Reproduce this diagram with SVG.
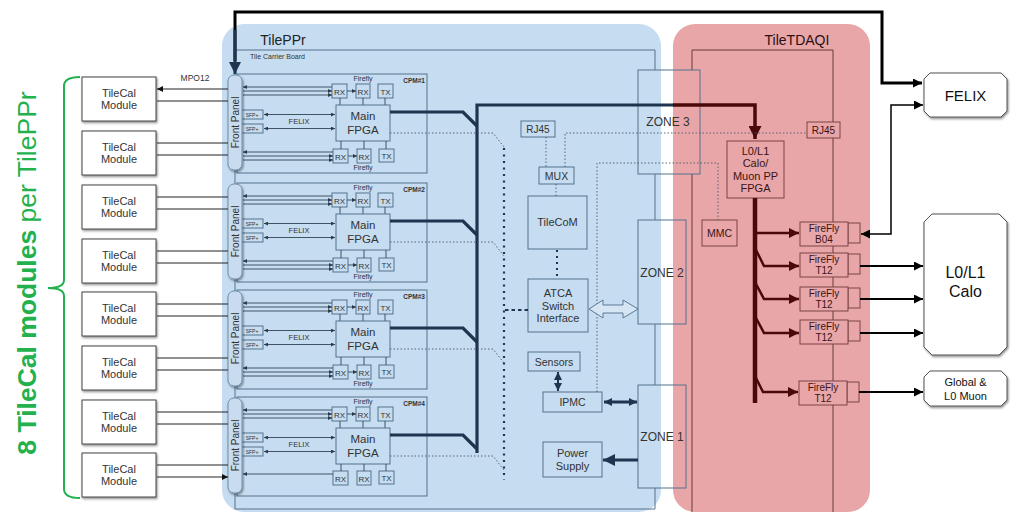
<svg xmlns="http://www.w3.org/2000/svg" xmlns:xlink="http://www.w3.org/1999/xlink" width="1018" height="514" viewBox="0 0 1018 514">
<defs>
<style>
text{font-family:"Liberation Sans",Arial,sans-serif;fill:#333;text-anchor:middle}
.bx{fill:none;stroke:#55728d;stroke-width:1}
.thin{fill:none;stroke:#2f4356;stroke-width:0.9}
.dot{fill:none;stroke:#4a5a6a;stroke-width:0.9;stroke-dasharray:1.5 2}
.rbx{fill:none;stroke:#7a4545;stroke-width:1}
.rbxs{fill:#e8a6a9;stroke:#7a4545;stroke-width:1}
.rt{fill:#3a1414}
.mod{fill:#fff;stroke:#444;stroke-width:1;filter:url(#sh)}
.modarr{fill:none;stroke:#222;stroke-width:1;marker-start:url(#ma);marker-end:url(#ma)}
.out{fill:#fff;stroke:#555;stroke-width:1;filter:url(#sh)}
</style>
<filter id="sh" x="-10%" y="-10%" width="130%" height="130%"><feDropShadow dx="1" dy="1.5" stdDeviation="0.8" flood-color="#000" flood-opacity="0.45"/></filter>
<marker id="mt" viewBox="0 0 10 10" refX="10" refY="5" markerWidth="5" markerHeight="4" markerUnits="userSpaceOnUse" orient="auto-start-reverse"><path d="M0,0 L10,5 L0,10 z" fill="#2b3b4b"/></marker>
<marker id="ma" viewBox="0 0 10 10" refX="10" refY="5" markerWidth="8" markerHeight="6" markerUnits="userSpaceOnUse" orient="auto-start-reverse"><path d="M0,0 L10,5 L0,10 z" fill="#111"/></marker>
<marker id="mn" viewBox="0 0 10 10" refX="10" refY="5" markerWidth="9" markerHeight="8" markerUnits="userSpaceOnUse" orient="auto-start-reverse"><path d="M0,0 L10,5 L0,10 z" fill="#1e3550"/></marker>
<marker id="mnb" viewBox="0 0 10 10" refX="10" refY="5" markerWidth="14" markerHeight="12" markerUnits="userSpaceOnUse" orient="auto"><path d="M0,0 L10,5 L0,10 z" fill="#1e3550"/></marker>
<marker id="mk" viewBox="0 0 10 10" refX="10" refY="5" markerWidth="12" markerHeight="9" markerUnits="userSpaceOnUse" orient="auto-start-reverse"><path d="M0,0 L10,5 L0,10 z" fill="#000"/></marker>
<marker id="mr" viewBox="0 0 10 10" refX="10" refY="5" markerWidth="12" markerHeight="10" markerUnits="userSpaceOnUse" orient="auto"><path d="M0,0 L10,5 L0,10 z" fill="#4a0808"/></marker>
<marker id="mrb" viewBox="0 0 10 10" refX="10" refY="5" markerWidth="13" markerHeight="13" markerUnits="userSpaceOnUse" orient="auto"><path d="M0,0 L10,5 L0,10 z" fill="#4a0808"/></marker>
<g id="cpmTop">
<rect class="bx" x="237" y="1" width="190" height="99"/>
<text x="363" y="8" style="font-size:7px">Firefly</text>
<rect class="bx" x="332" y="11" width="15" height="14"/><text x="339.5" y="21.5" style="font-size:8px">RX</text>
<rect class="bx" x="356" y="11" width="14" height="14"/><text x="363" y="21.5" style="font-size:8px">RX</text>
<rect class="bx" x="378" y="11" width="15" height="14"/><text x="385.5" y="21.5" style="font-size:8px">TX</text>
<path class="thin" d="M332,14 H243" marker-end="url(#mt)"/>
<path class="thin" d="M243,18 H332" marker-end="url(#mt)"/>
<path class="thin" d="M243,22 H332" marker-end="url(#mt)"/>
<path class="thin" d="M347,18 H356" marker-end="url(#mt)"/>
<path class="thin" d="M340,25 V32 M363,25 V32 M385,25 V32"/>
<rect class="bx" x="336" y="32" width="54" height="36"/>
<text x="363" y="47" style="font-size:11.5px">Main</text>
<text x="363" y="61" style="font-size:11.5px">FPGA</text>
<rect class="bx" x="241" y="37" width="22" height="9"/><text x="252" y="43.5" style="font-size:5px">SFP+</text>
<rect class="bx" x="241" y="51" width="22" height="9"/><text x="252" y="57.5" style="font-size:5px">SFP+</text>
<path class="thin" d="M264,41.5 H335" marker-start="url(#mt)" marker-end="url(#mt)"/>
<path class="thin" d="M264,55.5 H335" marker-start="url(#mt)" marker-end="url(#mt)"/>
<text x="299" y="51" style="font-size:7.5px">FELIX</text>
</g>
<g id="cpmBot">
<rect class="bx" x="333" y="76" width="15" height="14"/><text x="340.5" y="86.5" style="font-size:8px">RX</text>
<rect class="bx" x="357" y="76" width="14" height="14"/><text x="364" y="86.5" style="font-size:8px">RX</text>
<rect class="bx" x="379" y="76" width="15" height="13"/><text x="386.5" y="86" style="font-size:8px">TX</text>
<path class="thin" d="M341,68 V76 M364,68 V76 M386,68 V76"/>
<path class="thin" d="M333,79 H243" marker-end="url(#mt)"/>
<path class="thin" d="M243,83 H333" marker-end="url(#mt)"/>
<path class="thin" d="M243,87 H333" marker-end="url(#mt)"/>
<path class="thin" d="M348,83 H357" marker-end="url(#mt)"/>
<text x="363" y="97" style="font-size:7px">Firefly</text>
</g>
<g id="fp">
<rect x="228" y="2" width="14" height="95" rx="6" fill="#c9dcef" stroke="#6f8fab" stroke-width="1" filter="url(#sh)"/>
<text transform="translate(238.5,49.5) rotate(-90)" style="font-size:10px">Front Panel</text>
</g>
</defs>

<rect width="1018" height="514" fill="#fff"/>

<g id="panels">
<rect x="222" y="24" width="439" height="488" rx="22" fill="#c6dcf0"/>
<rect x="673" y="24" width="197" height="488" rx="22" fill="#e8a6a9"/>
<text x="283" y="45" style="font-size:14px;fill:#222">TilePPr</text>
<text x="797" y="45" style="font-size:14px;fill:#2a1010">TileTDAQI</text>
</g>

<g id="carrier-board">
<path d="M235,509 V50 H655 V70 M655,174 V220 M655,324 V385 M655,488 V509 H235" fill="none" stroke="#55728d" stroke-width="1"/>
<text x="250" y="59" style="font-size:7px;text-anchor:start">Tile Carrier Board</text>
</g>

<g id="tdaqi-board">
<path d="M692,70 V50 H833 V512 M692,174 V512" fill="none" stroke="#6a3a3a" stroke-width="1"/>
</g>

<g id="brace">
<path d="M80,77 Q64,77 64,86 V280 Q64,288 48,288 Q64,288 64,296 V489 Q64,498 80,498" fill="none" stroke="#22b14c" stroke-width="2"/>
<text transform="translate(36,273) rotate(-90)" style="font-size:26.5px;fill:#22b14c"><tspan font-weight="bold">8 TileCal modules</tspan> per TilePPr</text>
</g>

<g id="modules">
<g id="mod1"><rect class="mod" x="82" y="77" width="74" height="44"/><text x="119" y="97" style="font-size:11px">TileCal</text><text x="119" y="109" style="font-size:11px">Module</text></g>
<g id="mod2"><rect class="mod" x="82" y="131" width="74" height="44"/><text x="119" y="151" style="font-size:11px">TileCal</text><text x="119" y="163" style="font-size:11px">Module</text></g>
<g id="mod3"><rect class="mod" x="82" y="185" width="74" height="44"/><text x="119" y="205" style="font-size:11px">TileCal</text><text x="119" y="217" style="font-size:11px">Module</text></g>
<g id="mod4"><rect class="mod" x="82" y="239" width="74" height="44"/><text x="119" y="259" style="font-size:11px">TileCal</text><text x="119" y="271" style="font-size:11px">Module</text></g>
<g id="mod5"><rect class="mod" x="82" y="292" width="74" height="44"/><text x="119" y="312" style="font-size:11px">TileCal</text><text x="119" y="324" style="font-size:11px">Module</text></g>
<g id="mod6"><rect class="mod" x="82" y="346" width="74" height="44"/><text x="119" y="366" style="font-size:11px">TileCal</text><text x="119" y="378" style="font-size:11px">Module</text></g>
<g id="mod7"><rect class="mod" x="82" y="400" width="74" height="44"/><text x="119" y="420" style="font-size:11px">TileCal</text><text x="119" y="432" style="font-size:11px">Module</text></g>
<g id="mod8"><rect class="mod" x="82" y="453" width="74" height="44"/><text x="119" y="473" style="font-size:11px">TileCal</text><text x="119" y="485" style="font-size:11px">Module</text></g>
<text x="195" y="81" style="font-size:8.5px">MPO12</text>
</g>

<g id="cpm1" transform="translate(0,73)"><use href="#cpmTop"/><use href="#cpmBot"/><text x="425" y="10" style="font-size:6.5px;font-weight:bold;text-anchor:end">CPM#1</text><use href="#fp"/></g>
<g id="cpm2" transform="translate(0,182)"><use href="#cpmTop"/><use href="#cpmBot"/><text x="425" y="10" style="font-size:6.5px;font-weight:bold;text-anchor:end">CPM#2</text><use href="#fp"/></g>
<g id="cpm3" transform="translate(0,289)"><use href="#cpmTop"/><use href="#cpmBot"/><text x="425" y="10" style="font-size:6.5px;font-weight:bold;text-anchor:end">CPM#3</text><use href="#fp"/></g>
<g id="cpm4" transform="translate(0,396)"><use href="#cpmTop"/>
<rect class="bx" x="333" y="75" width="15" height="14"/><text x="340.5" y="85.5" style="font-size:8px">RX</text>
<rect class="bx" x="357" y="75" width="14" height="14"/><text x="364" y="85.5" style="font-size:8px">RX</text>
<rect class="bx" x="379" y="75" width="15" height="13"/><text x="386.5" y="85" style="font-size:8px">TX</text>
<path class="thin" d="M341,68 V75 M364,68 V75 M386,68 V75"/>
<path class="thin" d="M333,78 H243" marker-end="url(#mt)"/>
<text x="425" y="10" style="font-size:6.5px;font-weight:bold;text-anchor:end">CPM#4</text><use href="#fp"/></g>

<g id="tilecom-parts">
<g id="rj45-ppr"><rect class="bx" x="521" y="121" width="34" height="16"/><text x="538" y="133" style="font-size:10px">RJ45</text></g>
<g id="mux"><rect class="bx" x="539" y="167" width="35" height="17"/><text x="556.5" y="179.5" style="font-size:10.5px">MUX</text></g>
<g id="tilecom"><rect class="bx" x="528" y="196" width="59" height="53"/><text x="557.5" y="226" style="font-size:11px">TileCoM</text></g>
<g id="atca"><rect class="bx" x="528" y="279" width="60" height="53"/><text x="558" y="297" style="font-size:11px">ATCA</text><text x="558" y="310" style="font-size:11px">Switch</text><text x="558" y="322" style="font-size:11px">Interface</text></g>
<g id="sensors"><rect class="bx" x="528" y="352" width="52" height="19"/><text x="554" y="365.5" style="font-size:10.5px">Sensors</text></g>
<g id="ipmc"><rect class="bx" x="543" y="392" width="59" height="20"/><text x="572.5" y="406" style="font-size:10.5px">IPMC</text></g>
<g id="power"><rect class="bx" x="543" y="442" width="59" height="35"/><text x="572.5" y="457" style="font-size:11px">Power</text><text x="572.5" y="470" style="font-size:11px">Supply</text></g>
</g>

<g id="zones">
<g id="zone3"><rect x="638" y="70" width="62" height="104" fill="none" stroke="#55728d" stroke-width="1"/><text x="668" y="126" style="font-size:12px">ZONE 3</text></g>
<g id="zone2"><rect x="638" y="220" width="48" height="104" fill="none" stroke="#55728d" stroke-width="1"/><text x="662" y="277" style="font-size:12px">ZONE 2</text></g>
<g id="zone1"><rect x="638" y="385" width="48" height="103" fill="none" stroke="#55728d" stroke-width="1"/><text x="662" y="441" style="font-size:12px">ZONE 1</text></g>
</g>

<g id="tdaqi-parts">
<g id="rj45-tdaqi"><rect class="rbxs" x="807" y="122" width="33" height="16"/><text class="rt" x="823.5" y="134" style="font-size:10px">RJ45</text></g>
<g id="l0l1fpga"><rect class="rbx" x="727" y="141" width="57" height="57"/>
<text class="rt" x="755.5" y="155" style="font-size:11px">L0/L1</text><text class="rt" x="755.5" y="167" style="font-size:11px">Calo/</text><text class="rt" x="755.5" y="180" style="font-size:11px">Muon PP</text><text class="rt" x="755.5" y="192" style="font-size:11px">FPGA</text></g>
<g id="mmc"><rect class="rbx" x="702" y="220" width="35" height="26"/><text class="rt" x="719.5" y="237" style="font-size:10.5px">MMC</text></g>
<g id="ffb04"><rect class="rbxs" x="848" y="223" width="12" height="20"/><rect class="rbxs" x="800" y="222" width="48" height="24"/><text class="rt" x="824" y="232" style="font-size:10px">FireFly</text><text class="rt" x="824" y="243" style="font-size:10px">B04</text></g>
<g id="fft1"><rect class="rbxs" x="848" y="254" width="12" height="20"/><rect class="rbxs" x="800" y="253" width="48" height="24"/><text class="rt" x="824" y="263" style="font-size:10px">FireFly</text><text class="rt" x="824" y="274" style="font-size:10px">T12</text></g>
<g id="fft2"><rect class="rbxs" x="848" y="288" width="12" height="20"/><rect class="rbxs" x="800" y="287" width="48" height="24"/><text class="rt" x="824" y="297" style="font-size:10px">FireFly</text><text class="rt" x="824" y="308" style="font-size:10px">T12</text></g>
<g id="fft3"><rect class="rbxs" x="848" y="321" width="12" height="20"/><rect class="rbxs" x="800" y="320" width="48" height="24"/><text class="rt" x="824" y="330" style="font-size:10px">FireFly</text><text class="rt" x="824" y="341" style="font-size:10px">T12</text></g>
<g id="fft4"><rect class="rbxs" x="847" y="382" width="12" height="20"/><rect class="rbxs" x="799" y="381" width="48" height="24"/><text class="rt" x="823" y="391" style="font-size:10px">FireFly</text><text class="rt" x="823" y="402" style="font-size:10px">T12</text></g>
</g>

<g id="outputs">
<g id="felix"><path class="out" d="M930,73 H1001 L1007,79 V111 L1001,117 H930 L924,111 V79 Z"/><text x="965.5" y="101" style="font-size:15px;fill:#111">FELIX</text></g>
<g id="calo"><path class="out" d="M932,214 H999 L1007,222 V347 L999,355 H932 L924,347 V222 Z"/><text x="965.5" y="278" style="font-size:16px;fill:#111">L0/L1</text><text x="965.5" y="297" style="font-size:16px;fill:#111">Calo</text></g>
<g id="global"><path class="out" d="M930,371 H1001 L1007,377 V400 L1001,406 H930 L924,400 V377 Z"/><text x="965.5" y="386" style="font-size:11px;fill:#111">Global &amp;</text><text x="965.5" y="400" style="font-size:11px;fill:#111">L0 Muon</text></g>
</g>

<g id="connectors">
<path class="modarr" d="M157,89 H228 M157,101 H228 M157,143 H228 M157,155 H228 M157,197 H228 M157,209 H228 M157,251 H228 M157,263 H228 M157,304 H228 M157,316 H228 M157,358 H228 M157,370 H228 M157,412 H228 M157,424 H228 M157,465 H228 M157,477 H228"/>
<path d="M235,61 V12 H882 V83 H922" fill="none" stroke="#000" stroke-width="3" marker-end="url(#mk)"/>
<path d="M235,30 V74" fill="none" stroke="#1e3550" stroke-width="3" marker-end="url(#mnb)"/>
<g fill="none" stroke="#1e3550" stroke-width="3.2">
<path d="M390,112 H463 L477,126"/>
<path d="M390,221 H463 L477,235"/>
<path d="M390,328 H463 L477,342"/>
<path d="M390,435 H463 L477,449"/>
<path d="M477,453 V105 H674"/>
</g>
<path d="M673,105 H755 V139" fill="none" stroke="#4a0808" stroke-width="3.5" marker-end="url(#mrb)"/>
<path class="dot" d="M390,133 H493 L504,147 M390,242 H493 L504,256 M390,349 H493 L504,363 M390,456 H493 L504,470"/>
<path d="M504,148 V480" fill="none" stroke="#1e3550" stroke-width="2.2" stroke-dasharray="2 4.5"/>
<path d="M505,310 H528" fill="none" stroke="#1e3550" stroke-width="2" stroke-dasharray="3.5 3"/>
<path d="M557,250 V279" fill="none" stroke="#1e3550" stroke-width="2" stroke-dasharray="2 4"/>
<path class="dot" d="M546,137 V167 M556,184 V196 M565,167 V133 H807 M597,392 V163 H718 V220"/>
<polygon points="589,309 603,300 603,305 623,305 623,300 638,309 623,318 623,313 603,313 603,318" fill="#d6e5f4" stroke="#5a7a95" stroke-width="1"/>
<path d="M604,402 H637" fill="none" stroke="#1e3550" stroke-width="3" marker-start="url(#mn)" marker-end="url(#mn)"/>
<path d="M558,372 V391" fill="none" stroke="#1e3550" stroke-width="2" marker-start="url(#mn)" marker-end="url(#mn)"/>
<path d="M638,460 H603" fill="none" stroke="#1e3550" stroke-width="3" marker-end="url(#mnb)"/>
<g fill="none" stroke="#4a0808" stroke-width="2.5">
<path d="M755,198 V403" stroke-width="4.5"/>
<path d="M755,233 H799" marker-end="url(#mr)"/>
<path d="M756,250 L764,266 H799" marker-end="url(#mr)"/>
<path d="M756,284 L764,299 H799" marker-end="url(#mr)"/>
<path d="M756,318 L764,333 H799" marker-end="url(#mr)"/>
<path d="M756,378 L763,392 H798" marker-end="url(#mr)"/>
</g>
<g fill="none" stroke="#000" stroke-width="2">
<path d="M860,266 H923" marker-end="url(#mk)"/>
<path d="M860,299 H923" marker-end="url(#mk)"/>
<path d="M860,333 H923" marker-end="url(#mk)"/>
<path d="M859,392 H923" marker-end="url(#mk)"/>
<path d="M861,234 H891 V105 H923" stroke-width="1.5" marker-start="url(#mk)" marker-end="url(#mk)"/>
</g>
</g>
</svg>
